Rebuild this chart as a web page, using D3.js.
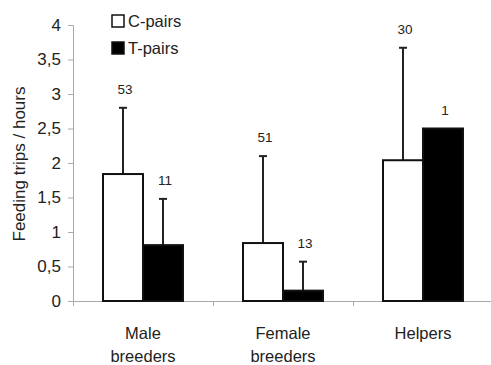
<!DOCTYPE html>
<html>
<head>
<meta charset="utf-8">
<script src="https://cdn.jsdelivr.net/npm/d3@7"></script>
<style>
  body { margin: 0; background: #fff; }
  svg text { font-family: "Liberation Sans", Arial, sans-serif; fill: #222; }
</style>
</head>
<body>
<div id="chart"></div>
<script>
// data
const categories = [["Male", "breeders"], ["Female", "breeders"], ["Helpers"]];
const groups = ["C-pairs", "T-pairs"];
const cPairs = [1.84, 0.84, 2.04];
const tPairs = [0.81, 0.15, 2.5];
const cErrTop = [2.8, 2.1, 3.67];
const tErrTop = [1.48, 0.57, null];
const cN = ["53", "51", "30"];
const tN = ["11", "13", "1"];
const yTicks = [0, 0.5, 1, 1.5, 2, 2.5, 3, 3.5, 4];

const width = 491, height = 365;
const margin = { top: 25, right: -2, bottom: 64, left: 73 };
const innerW = width - margin.left - margin.right;
const innerH = height - margin.top - margin.bottom;

const svg = d3.select("#chart").append("svg")
    .attr("width", width)
    .attr("height", height);

const g = svg.append("g")
    .attr("transform", "translate(" + margin.left + "," + margin.top + ")");

const x = d3.scaleBand().domain(d3.range(categories.length)).range([0, innerW]);
const x1 = d3.scaleBand().domain(groups).range([x.bandwidth() / 2 - 40, x.bandwidth() / 2 + 40]);
const y = d3.scaleLinear().domain([0, 4]).range([innerH, 0]);

const fmt = d => String(d).replace(".", ",");

// y axis
const yAxis = g.append("g")
    .call(d3.axisLeft(y).tickValues(yTicks).tickFormat(fmt).tickSize(5).tickPadding(7));
yAxis.select(".domain").attr("stroke", "#aaa");
yAxis.selectAll(".tick line").attr("stroke", "#aaa");
yAxis.selectAll("text").attr("font-size", 17).style("fill", "#222");

// x axis
const xAxis = g.append("g")
    .attr("transform", "translate(0," + innerH + ")")
    .call(d3.axisBottom(d3.scaleLinear().domain([0, 3]).range([0, innerW]))
      .tickValues([1, 2]).tickSize(5).tickFormat(""));
xAxis.select(".domain").attr("stroke", "#aaa");
xAxis.selectAll(".tick line").attr("stroke", "#aaa");

// category labels
categories.forEach((lines, i) => {
  const t = g.append("text")
      .attr("x", x(i) + x.bandwidth() / 2)
      .attr("y", innerH + 38)
      .attr("text-anchor", "middle")
      .attr("font-size", 16.5);
  lines.forEach((l, j) => {
    t.append("tspan")
      .attr("x", x(i) + x.bandwidth() / 2)
      .attr("dy", j === 0 ? 0 : 23)
      .text(l);
  });
});

// bars
const series = [
  { key: "C-pairs", values: cPairs, err: cErrTop, n: cN, fill: "#fff" },
  { key: "T-pairs", values: tPairs, err: tErrTop, n: tN, fill: "#000" }
];

series.forEach(s => {
  s.values.forEach((v, i) => {
    const bx = x(i) + x1(s.key);
    const cx = bx + x1.bandwidth() / 2;
    if (s.err[i] != null) {
      g.append("line")
        .attr("x1", cx).attr("x2", cx)
        .attr("y1", y(v)).attr("y2", y(s.err[i]))
        .attr("stroke", "#222").attr("stroke-width", 2);
      g.append("line")
        .attr("x1", cx - 4).attr("x2", cx + 4)
        .attr("y1", y(s.err[i])).attr("y2", y(s.err[i]))
        .attr("stroke", "#222").attr("stroke-width", 2);
    }
    g.append("rect")
      .attr("x", bx)
      .attr("y", y(v))
      .attr("width", x1.bandwidth())
      .attr("height", innerH - y(v))
      .attr("fill", s.fill)
      .attr("stroke", "#111")
      .attr("stroke-width", 2);
    const top = s.err[i] != null ? s.err[i] : v;
    g.append("text")
      .attr("x", cx + 2)
      .attr("y", y(top) - 14)
      .attr("text-anchor", "middle")
      .attr("font-size", 13.5)
      .text(s.n[i]);
  });
});

// y title
svg.append("text")
  .attr("transform", "translate(25," + (margin.top + innerH / 2 + 1) + ") rotate(-90)")
  .attr("text-anchor", "middle")
  .attr("font-size", 17)
  .text("Feeding trips / hours");

// legend
const legend = svg.append("g").attr("transform", "translate(112,15)");
series.forEach((s, i) => {
  const row = legend.append("g").attr("transform", "translate(0," + i * 27 + ")");
  row.append("rect")
    .attr("width", 12).attr("height", 12)
    .attr("fill", s.fill).attr("stroke", "#111").attr("stroke-width", 1.5);
  row.append("text")
    .attr("x", 16).attr("y", 12)
    .attr("font-size", 16.5)
    .text(s.key);
});
</script>
</body>
</html>
